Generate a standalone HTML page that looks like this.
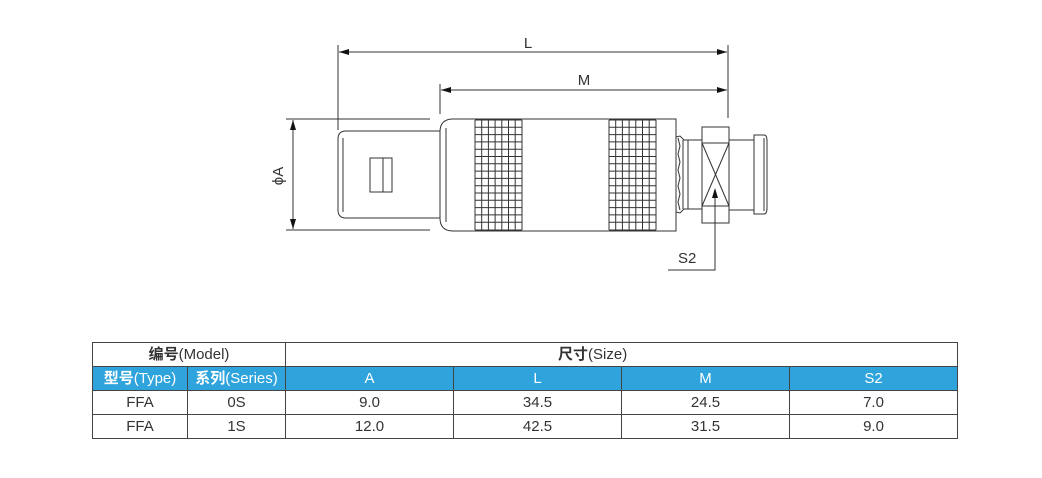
<!DOCTYPE html>
<html><head><meta charset="utf-8"><style>
html,body{margin:0;padding:0;background:#fff;}
body{width:1042px;height:478px;position:relative;overflow:hidden;font-family:"Liberation Sans","Noto Sans CJK SC",sans-serif;}
svg{position:absolute;left:0;top:0;}
table{position:absolute;left:92px;top:342px;border-collapse:collapse;font-size:15px;color:#333;}
td{border:1px solid #444;text-align:center;padding:0;height:23px;line-height:22px;}
tr.b td{background:#2ea3dc;color:#fff;border-top:none;border-bottom:none;}
tr.b td+td{border-left:1px solid #1d6f99;}
.cj{font-weight:bold;}
</style></head><body>
<svg width="1042" height="478" viewBox="0 0 1042 478">
<defs>
<marker id="ar" viewBox="0 0 10 6" refX="10" refY="3" markerWidth="16" markerHeight="6" markerUnits="userSpaceOnUse" orient="auto-start-reverse"><path d="M0 0L10 3L0 6z" fill="#111"/></marker>
<g id="kg" stroke="#333" stroke-width="1" fill="none">
<path d="M0 0V110M6.7 0V110M13.4 0V110M20.1 0V110M26.8 0V110M33.5 0V110M40.2 0V110M47 0V110"/>
<path d="M0 0H47M0 7.3H47M0 14.6H47M0 21.9H47M0 29.2H47M0 36.5H47M0 43.8H47M0 51.1H47M0 58.4H47M0 65.7H47M0 73H47M0 80.3H47M0 87.6H47M0 94.9H47M0 102.2H47M0 110H47"/>
</g>
</defs>
<g stroke="#333" stroke-width="1" fill="none">
<line x1="338" y1="45" x2="338" y2="130"/>
<line x1="728" y1="45" x2="728" y2="118"/>
<line x1="339" y1="52" x2="727" y2="52" marker-start="url(#ar)" marker-end="url(#ar)"/>
<line x1="440" y1="84" x2="440" y2="114"/>
<line x1="441" y1="90" x2="727" y2="90" marker-start="url(#ar)" marker-end="url(#ar)"/>
<line x1="286" y1="119" x2="430" y2="119"/>
<line x1="286" y1="230" x2="430" y2="230"/>
<line x1="293" y1="120" x2="293" y2="229" marker-start="url(#ar)" marker-end="url(#ar)"/>
<path d="M440 131H346Q338 131 338 139V210Q338 218 346 218H440"/>
<line x1="343" y1="138" x2="343" y2="212"/>
<rect x="370" y="158" width="22" height="34"/>
<line x1="383" y1="158" x2="383" y2="192"/>
<path d="M676 119H453Q440 119 440 132V218Q440 231 453 231H676Z"/>
<line x1="446" y1="128" x2="446" y2="222"/>
<path d="M676 137L680 136L684 140L688 140L688 209L684 209L680 213L676 212"/>
<path d="M678 138L680 146L678 154L680 162L678 170L680 178L678 186L680 194L678 202L680 210"/>
<line x1="683" y1="140" x2="683" y2="209"/>
<line x1="688" y1="140" x2="702" y2="140"/><line x1="688" y1="209" x2="702" y2="209"/>
<rect x="702" y="127" width="27" height="96"/>
<line x1="702" y1="143" x2="729" y2="143"/><line x1="702" y1="206" x2="729" y2="206"/>
<line x1="702" y1="143" x2="729" y2="206"/><line x1="729" y1="143" x2="702" y2="206"/>
<line x1="729" y1="140" x2="754" y2="140"/><line x1="729" y1="210" x2="754" y2="210"/>
<path d="M754 135H764Q767 135 767 141V208Q767 214 764 214H754Z"/>
<line x1="764" y1="138" x2="764" y2="211"/>
<path d="M668 270H715V190"/>
</g>
<use href="#kg" x="475" y="120"/>
<use href="#kg" x="609" y="120"/>
<path d="M712 198L715 188L718 198Z" fill="#111"/>
<g font-family="Liberation Sans,sans-serif" font-size="15" fill="#333">
<text x="528" y="48" text-anchor="middle">L</text>
<text x="584" y="85" text-anchor="middle">M</text>
<text x="283" y="176" text-anchor="middle" transform="rotate(-90 283 176)">ϕA</text>
<text x="678" y="263">S2</text>
</g>
</svg>
<table>
<tr><td colspan="2" style="width:192px"><span class="cj">编号</span>(Model)</td><td colspan="4" style="text-align:left;padding-left:272px"><span class="cj">尺寸</span>(Size)</td></tr>
<tr class="b"><td style="width:94px"><span class="cj">型号</span>(Type)</td><td style="width:97px"><span class="cj">系列</span>(Series)</td><td style="width:167px">A</td><td style="width:167px">L</td><td style="width:167px">M</td><td style="width:167px">S2</td></tr>
<tr><td>FFA</td><td>0S</td><td>9.0</td><td>34.5</td><td>24.5</td><td>7.0</td></tr>
<tr><td>FFA</td><td>1S</td><td>12.0</td><td>42.5</td><td>31.5</td><td>9.0</td></tr>
</table>
</body></html>
